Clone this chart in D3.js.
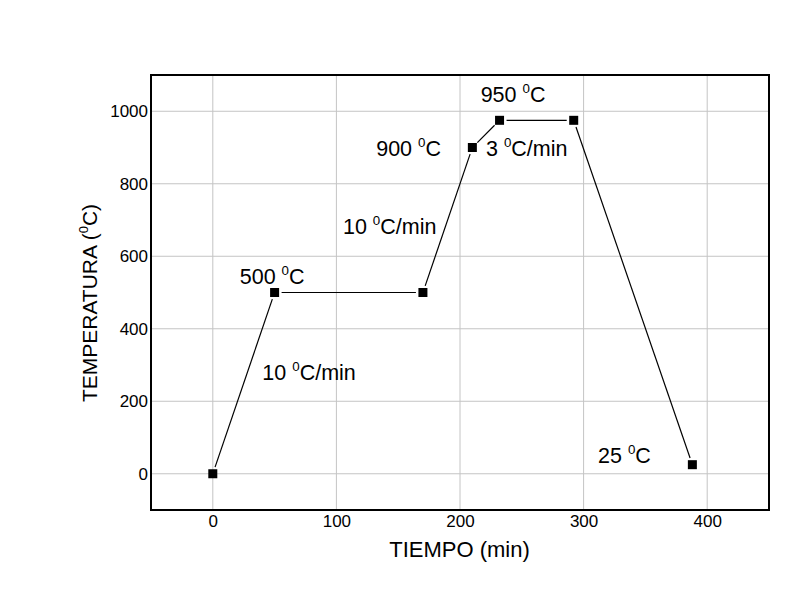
<!DOCTYPE html>
<html>
<head>
<meta charset="utf-8">
<script src="https://cdn.jsdelivr.net/npm/d3@7/dist/d3.min.js"></script>
<style>
  html, body { margin: 0; padding: 0; background: #fff; }
  svg { display: block; font-family: "Liberation Sans", Arial, sans-serif; }
</style>
</head>
<body>
<svg id="chart" width="789" height="602"></svg>
<script>
// ---- data ----
const timeMin = [0, 50, 170, 210, 232, 292, 388];
const tempC   = [0, 500, 500, 900, 975, 975, 25];
const xTicks = [0, 100, 200, 300, 400];
const yTicks = [0, 200, 400, 600, 800, 1000];
const xDomain = [-50, 450];
const yDomain = [-100, 1100];
const xTitle = "TIEMPO (min)";
const yTitle = ["TEMPERATURA (", "0", "C)"];
// annotation texts: [main, superscript, rest], anchored in data coordinates
const noteText = [
  ["500 ", "0", "C"],
  ["10 ", "0", "C/min"],
  ["10 ", "0", "C/min"],
  ["900 ", "0", "C"],
  ["3 ", "0", "C/min"],
  ["950 ", "0", "C"],
  ["25 ", "0", "C"]
];
const noteT = [21.8, 40.1, 105.3, 132.2, 221, 216.7, 311.7];
const noteV = [523, 259, 661, 876, 876, 1026, 29];

// ---- layout ----
const svg = d3.select("#chart");
const L = 151, R = 769, T = 75, B = 510;
const x = d3.scaleLinear().domain(xDomain).range([L, R]);
const y = d3.scaleLinear().domain(yDomain).range([B, T]);

// grid
const grid = svg.append("g").attr("stroke", "#c4c4c4").attr("stroke-width", 1);
grid.selectAll("line.vx").data(xTicks).join("line")
  .attr("x1", d => x(d)).attr("x2", d => x(d)).attr("y1", T).attr("y2", B);
grid.selectAll("line.hy").data(yTicks).join("line")
  .attr("x1", L).attr("x2", R).attr("y1", d => y(d)).attr("y2", d => y(d));

// axes (labels only, ticks hidden)
const xAxis = svg.append("g").attr("transform", `translate(0,${B})`)
  .call(d3.axisBottom(x).tickValues(xTicks).tickSize(0).tickPadding(5).tickFormat(d3.format("d")));
const yAxis = svg.append("g").attr("transform", `translate(${L},0)`)
  .call(d3.axisLeft(y).tickValues(yTicks).tickSize(0).tickPadding(3).tickFormat(d3.format("d")));
[xAxis, yAxis].forEach(a => {
  a.select(".domain").remove();
  a.selectAll("text").attr("font-family", "Liberation Sans, Arial, sans-serif")
    .attr("font-size", 17).attr("fill", "#000");
});

// frame
svg.append("rect").attr("x", L).attr("y", T).attr("width", R - L).attr("height", B - T)
  .attr("fill", "none").attr("stroke", "#000").attr("stroke-width", 2);

// line segments with gaps near markers
const pts = timeMin.map((t, i) => [x(t), y(tempC[i])]);
const gap = 7;
const segs = d3.pairs(pts).map(([a, b]) => {
  const dx = b[0] - a[0], dy = b[1] - a[1], len = Math.hypot(dx, dy);
  const ux = dx / len, uy = dy / len;
  return [a[0] + ux * gap, a[1] + uy * gap, b[0] - ux * gap, b[1] - uy * gap];
});
svg.append("g").attr("stroke", "#000").attr("stroke-width", 1.2)
  .selectAll("line").data(segs).join("line")
  .attr("x1", d => d[0]).attr("y1", d => d[1]).attr("x2", d => d[2]).attr("y2", d => d[3]);

// markers
const ms = 9;
svg.append("g").selectAll("rect").data(timeMin).join("rect")
  .attr("x", (d) => x(d) - ms / 2)
  .attr("y", (d, i) => y(tempC[i]) - ms / 2)
  .attr("width", ms).attr("height", ms).attr("fill", "#000");

// annotations
function supText(sel, parts, fs) {
  sel.append("tspan").text(parts[0]);
  sel.append("tspan").attr("font-size", fs * 0.62).attr("dy", -fs * 0.42).text(parts[1]);
  sel.append("tspan").attr("font-size", fs).attr("dy", fs * 0.42).text(parts[2]);
}
noteText.forEach((p, i) => {
  const t = svg.append("text").attr("x", x(noteT[i])).attr("y", y(noteV[i]))
    .attr("font-size", 21.5).attr("fill", "#000");
  supText(t, p, 21.5);
});

// axis titles
svg.append("text").attr("x", (L + R) / 2 - 0.5).attr("y", 557).attr("text-anchor", "middle")
  .attr("font-size", 22).attr("fill", "#000").text(xTitle);
const yt = svg.append("text").attr("transform", `translate(97,303) rotate(-90)`)
  .attr("text-anchor", "middle").attr("font-size", 21).attr("fill", "#000");
supText(yt, yTitle, 21);
</script>
</body>
</html>
